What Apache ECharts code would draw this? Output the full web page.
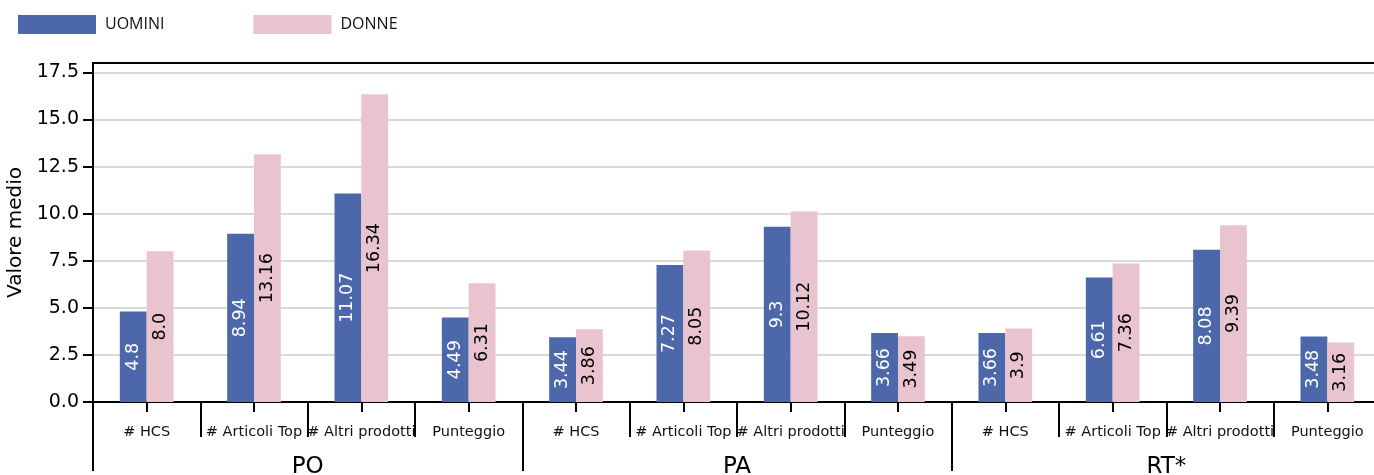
<!DOCTYPE html>
<html>
<head>
<meta charset="utf-8">
<script src="https://cdn.jsdelivr.net/npm/echarts@6/dist/echarts.min.js"></script>
<style>
html,body{margin:0;padding:0;background:#fff;}
#chart{width:1374px;height:475px;}
</style>
</head>
<body>
<div id="chart"></div>
<script>
const subCategories = ['# HCS', '# Articoli Top', '# Altri prodotti', 'Punteggio',
                       '# HCS', '# Articoli Top', '# Altri prodotti', 'Punteggio',
                       '# HCS', '# Articoli Top', '# Altri prodotti', 'Punteggio'];
const groups = ['PO', 'PA', 'RT*'];
const uomini = [4.8, 8.94, 11.07, 4.49, 3.44, 7.27, 9.3, 3.66, 3.66, 6.61, 8.08, 3.48];
const donne  = [8.0, 13.16, 16.34, 6.31, 3.86, 8.05, 10.12, 3.49, 3.9, 7.36, 9.39, 3.16];
const uominiLabels = ['4.8', '8.94', '11.07', '4.49', '3.44', '7.27', '9.3', '3.66', '3.66', '6.61', '8.08', '3.48'];
const donneLabels  = ['8.0', '13.16', '16.34', '6.31', '3.86', '8.05', '10.12', '3.49', '3.9', '7.36', '9.39', '3.16'];
const yTicks = [0, 2.5, 5, 7.5, 10, 12.5, 15, 17.5];

const FONT = 'DejaVu Sans';
const chart = echarts.init(document.getElementById('chart'), null, {renderer: 'canvas'});
const option = {
  animation: false,
  legend: {
    left: 13, top: 10,
    itemWidth: 78, itemHeight: 19, itemGap: 89,
    icon: 'rect',
    textStyle: {fontFamily: 'Open Sans', fontSize: 16, color: '#111', padding: [0,0,0,4]},
    data: ['UOMINI', 'DONNE']
  },
  grid: {
    left: 93, top: 63, width: 1288, height: 339,
    outerBoundsMode: 'none', containLabel: false,
    show: true, borderColor: '#000', borderWidth: 2, backgroundColor: 'transparent'
  },
  yAxis: {
    type: 'value', min: 0, max: 18, interval: 2.5,
    name: 'Valore medio', nameLocation: 'middle', nameGap: 57,
    nameTextStyle: {fontFamily: FONT, fontSize: 20, color: '#000'},
    axisLine: {show: true, lineStyle: {color: '#000', width: 2}},
    axisTick: {show: true, length: 10, lineStyle: {color: '#000', width: 2}, customValues: yTicks},
    axisLabel: {fontFamily: FONT, fontSize: 19, color: '#000', margin: 14,
      customValues: yTicks, formatter: v => Number(v).toFixed(1)},
    splitLine: {show: true, lineStyle: {color: '#cccccc', width: 1.5}}
  },
  xAxis: [
    {
      type: 'category', data: subCategories, position: 'bottom',
      axisLine: {show: true, lineStyle: {color: '#000', width: 2}},
      axisTick: {show: true, alignWithLabel: true, interval: 0, length: 10, lineStyle: {color: '#000', width: 2}},
      axisLabel: {interval: 0, fontFamily: FONT, fontSize: 14.5, color: '#111', margin: 23}
    },
    {
      type: 'category', data: subCategories, position: 'bottom',
      axisLine: {show: false},
      axisTick: {show: true, interval: 0, length: 35, lineStyle: {color: '#000', width: 2}},
      axisLabel: {show: false}
    },
    {
      type: 'category', data: groups, position: 'bottom',
      axisLine: {show: false},
      axisTick: {show: true, interval: 0, length: 69, lineStyle: {color: '#000', width: 2}},
      axisLabel: {interval: 0, fontFamily: FONT, fontSize: 23, color: '#000', margin: 54}
    }
  ],
  series: [
    {
      name: 'UOMINI', type: 'bar', xAxisIndex: 0, data: uomini,
      barWidth: '25%', barGap: '0%',
      itemStyle: {color: '#4c68ab'},
      label: {show: true, position: 'inside', rotate: 90, fontFamily: FONT, fontSize: 17.5, color: '#fff',
        formatter: p => uominiLabels[p.dataIndex]}
    },
    {
      name: 'DONNE', type: 'bar', xAxisIndex: 0, data: donne,
      barWidth: '25%', barGap: '0%',
      itemStyle: {color: '#e9c4ce'},
      label: {show: true, position: 'inside', rotate: 90, fontFamily: FONT, fontSize: 17.5, color: '#000',
        formatter: p => donneLabels[p.dataIndex]}
    }
  ]
};
chart.setOption(option);
</script>
</body>
</html>
